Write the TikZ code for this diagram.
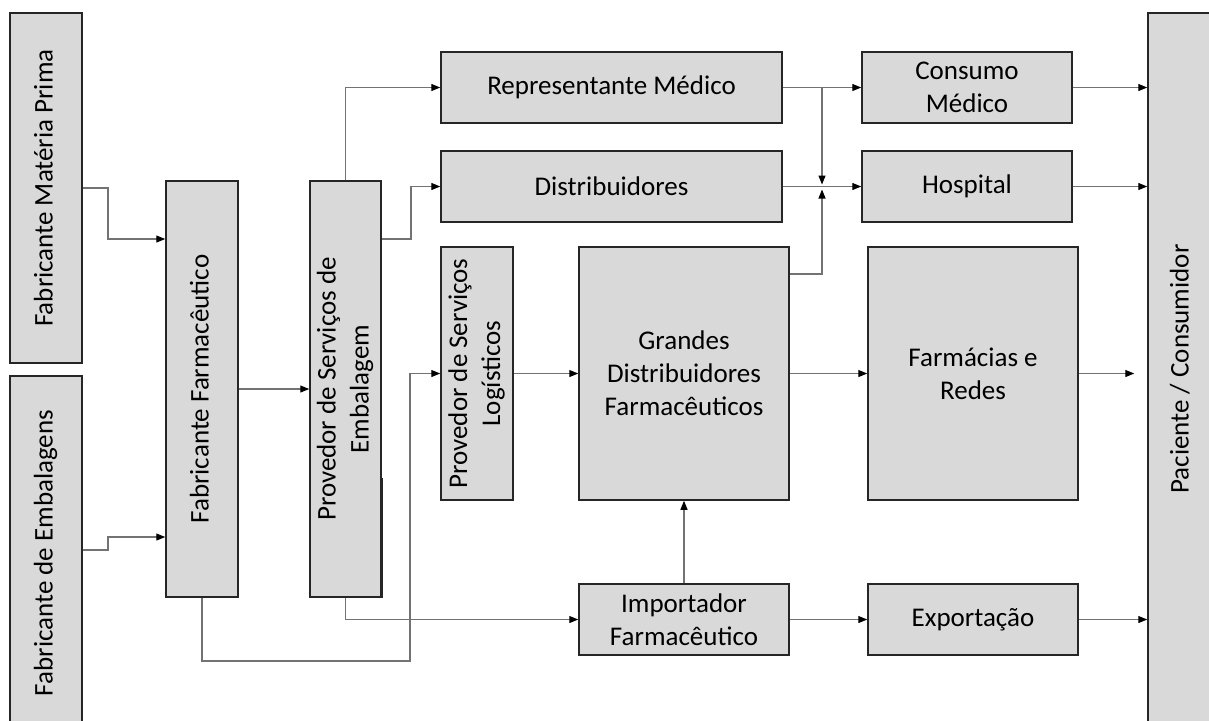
\documentclass[tikz,border=0pt]{standalone}
\usepackage{fontspec}
\setmainfont{Carlito}
\usetikzlibrary{arrows.meta}

\newlength{\du}
\setlength{\du}{0.5pt}

\definecolor{boxfill}{rgb}{0.85,0.85,0.85}
\definecolor{boxline}{rgb}{0.15,0.15,0.15}
\definecolor{linecolor}{rgb}{0.45,0.45,0.45}

\tikzset{
  block/.style={draw=boxline, fill=boxfill, line width=1.5\du, inner sep=0pt,
    align=center, font=\fontsize{13.5pt}{16.5pt}\selectfont},
  flow/.style={draw=linecolor, line width=1.2\du,
    -{Triangle[length=4.5pt,width=3.5pt,color=black]}}
}

% text turned to read upwards
\newcommand{\uptext}[1]{\rotatebox{90}{\begin{tabular}{@{}c@{}}#1\end{tabular}}}

\begin{document}
\begin{tikzpicture}[x=\du, y=-\du]
\useasboundingbox (0,0) rectangle (1209,720);

% suppliers
\node[block, minimum width=72\du, minimum height=350\du] (mp) at (46,188) {\uptext{Fabricante Matéria Prima}};
\node[block, minimum width=72\du, minimum height=354\du] (embal) at (46,553) {\uptext{Fabricante de Embalagens}};
\node[block, minimum width=72\du, minimum height=416\du] (farm) at (202,389) {\uptext{Fabricante Farmacêutico}};
\node[block, minimum width=71\du, minimum height=416\du] (provemb) at (345.5,389) {\uptext{Provedor de Serviços de\\Embalagem}};
\node[block, minimum width=72\du, minimum height=253\du] (logist) at (477,373.5) {\uptext{Provedor de Serviços\\Logísticos}};

% distribution
\node[block, minimum width=341\du, minimum height=71\du] (repmed) at (611.5,87.5) {Representante Médico};
\node[block, minimum width=341\du, minimum height=71\du] (distr) at (611.5,186.5) {Distribuidores};
\node[block, minimum width=210\du, minimum height=253\du] (grandes) at (684,373.5) {Grandes\\Distribuidores\\Farmacêuticos};
\node[block, minimum width=210\du, minimum height=71\du] (import) at (684,619.5) {Importador\\Farmacêutico};

% points of sale
\node[block, minimum width=210\du, minimum height=71\du] (consumo) at (967,87.5) {Consumo\\Médico};
\node[block, minimum width=210\du, minimum height=71\du] (hosp) at (967,186.5) {Hospital};
\node[block, minimum width=210\du, minimum height=253\du] (farmacias) at (973,373.5) {Farmácias e\\Redes};
\node[block, minimum width=210\du, minimum height=71\du] (export) at (973,619.5) {Exportação};
\node[block, minimum width=68\du, minimum height=712\du] (pac) at (1182,369) {\uptext{Paciente / Consumidor}};

% heavy edge on the packaging box
\draw[draw=boxline, line width=3\du] (provemb.south east) -- (provemb.east |- 0,478);

\coordinate (jn) at (822,186.5);

% connectors
\draw[flow] (mp.east) -| (108,239) -- (farm.west |- 0,239);
\draw[flow] (embal.east |- 0,550) -| (108,537) -- (farm.west |- 0,537);
\draw[flow] (farm.east) -- (provemb.west);
\draw[flow] (provemb.north) |- (repmed.west);
\draw[flow] (provemb.east |- 0,239) -| (411,186.5) -- (distr.west);
\draw[flow] (farm.south) |- (410,661) |- (logist.west);
\draw[flow] (provemb.south) |- (import.west);
\draw[flow] (logist.east) -- (grandes.west);
\draw[flow] (import.north) -- (grandes.south);
\draw[flow] (import.east) -- (export.west);
\draw[flow] (repmed.east) -- (consumo.west);
\draw[flow] (distr.east) -- (hosp.west);
\draw[flow] (repmed.east -| jn) -- ([yshift=2\du]jn);
\draw[flow] (grandes.east |- 0,274) -| ([yshift=-3\du]jn);
\draw[flow] (grandes.east) -- (farmacias.west);
\draw[flow] (consumo.east) -- (pac.west |- consumo.east);
\draw[flow] (hosp.east) -- (pac.west |- hosp.east);
\draw[flow] (farmacias.east) -- ([xshift=-13\du]pac.west |- farmacias.east);
\draw[flow] (export.east) -- (pac.west |- export.east);
\end{tikzpicture}
\end{document}
